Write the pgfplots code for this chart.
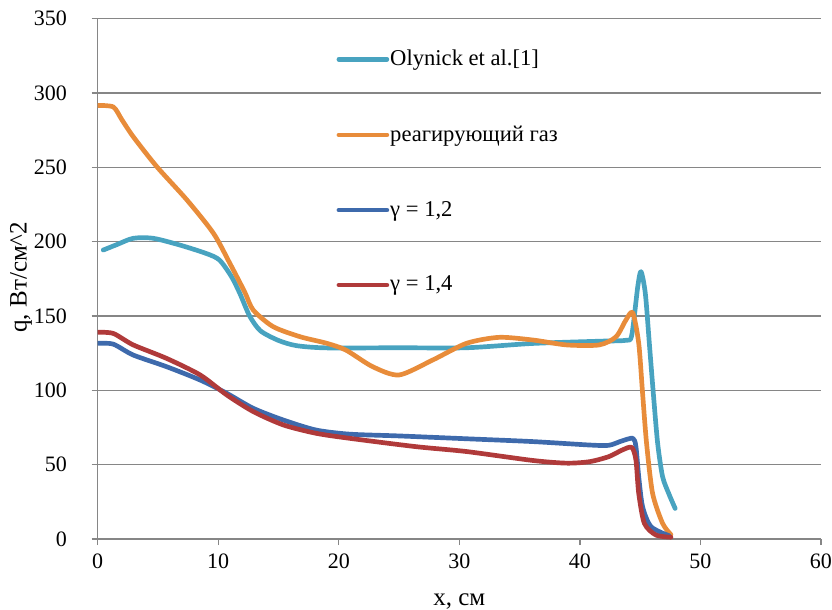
\documentclass[border=0pt]{standalone}
\usepackage{pgfplots}
\pgfplotsset{compat=1.18}
\usepackage{fontspec}
\setmainfont{Liberation Serif}
\definecolor{cteal}{RGB}{72,163,192}
\definecolor{corange}{RGB}{232,140,58}
\definecolor{cblue}{RGB}{62,106,172}
\definecolor{cred}{RGB}{176,58,58}
\definecolor{cgrid}{RGB}{134,134,134}
\begin{document}
\fontsize{20bp}{24bp}\selectfont
\begin{tikzpicture}
\begin{axis}[
  scale only axis,
  width=723.3bp, height=520.5bp,
  xmin=0, xmax=60, ymin=0, ymax=350,
  xtick={0,10,...,60}, ytick={0,50,...,350},
  axis x line*=bottom, axis y line*=left,
  axis line style={cgrid, line width=1.3pt, -},
  tick style={cgrid, line width=1.3pt},
  tick align=outside, major tick length=6bp,
  ymajorgrids, grid style={cgrid, line width=1.3pt},
  /pgf/number format/assume math mode=true,
  tick label style={font=\fontsize{22bp}{26bp}\selectfont},
  xticklabel style={yshift=-2bp},
  yticklabel style={anchor=east, xshift=-18bp},
  xlabel={x, см}, ylabel={q, Вт/см\textasciicircum2},
  label style={font=\fontsize{25bp}{28bp}\selectfont},
  xlabel style={at={(axis description cs:0.5,-0.12)}, anchor=center},
  ylabel style={at={(axis description cs:-0.106,0.503)}, anchor=center},
  legend style={at={(axis cs:19.55,331)}, anchor=north west, draw=none, fill=none,
    row sep=55bp, font=\fontsize{22.6bp}{26bp}\selectfont,
    nodes={inner sep=1bp}},
  legend cell align=left,
  legend image code/.code={\draw[#1] (0bp,0bp) -- (48bp,0bp);},
  every axis plot/.append style={line width=4.7pt, smooth, tension=0.45, line join=round, line cap=round},
]
\coordinate (O) at (rel axis cs:0,0);
\addplot[cteal] coordinates {
(0.46,194.3) (1.6,198) (2.95,202.2) (4.6,202.2) (6.8,197.7) (9.0,192) (10.1,187.6)
(11.1,176.4) (11.8,165) (12.6,150) (13.5,140) (15,133.5) (16.5,130) (19,128.5)
(25,128.6) (30.6,128.6) (36.1,131.5) (41.6,133) (43.8,133.6) (44.3,137)
(44.8,169.7) (45.07,179.8) (45.43,165) (45.76,131.6) (46.09,98) (46.45,64.4)
(46.86,41.9) (47.4,30) (47.9,20.6)
};
\addlegendentry{Olynick et al.[1]}
\addplot[corange] coordinates {
(0.05,291.5) (1.3,290.5) (2,282) (2.95,270.5) (4.9,250.4) (7.4,228) (9.6,205.6)
(10.96,185.4) (12.2,166) (12.9,154) (14.55,142.8) (16.8,136) (19,131.6) (20.6,127)
(22.8,115.9) (25.0,110.3) (27.8,120.4) (30.6,131.6) (33.3,135.6) (36.1,133.8)
(38.9,130.5) (41.6,130.5) (43.0,136) (43.8,147) (44.38,152.2) (44.88,131.6)
(45.2,98) (45.53,64.4) (46.03,30.7) (46.86,10.5) (47.55,3)
};
\addlegendentry{реагирующий газ}
\addplot[cblue] coordinates {
(0.05,131.6) (1.3,131) (2.95,123.7) (5.7,115.9) (8.5,106.9) (10.7,98) (12.9,87.9)
(15.4,80) (18.1,73.3) (20.9,70.5) (25,69.3) (30.6,67.4) (36.1,65.5) (40.8,63.2)
(42.4,63) (43.5,66) (44.4,67.7) (44.65,62) (44.88,41.9) (45.2,21.7) (45.9,8.3)
(47.4,2.2)
};
\addlegendentry{γ = 1,2}
\addplot[cred] coordinates {
(0.05,139) (1.3,138.2) (2.95,130.5) (5.7,121.5) (8.5,110.3) (10.7,96.9) (12.9,85.7)
(15.4,76.7) (18.1,71.1) (20.9,67.7) (26.4,62.1) (30.6,58.8) (36.1,52.8) (38.9,51)
(40.8,52) (42.4,55.4) (43.5,59.8) (44.3,61.6) (44.65,53) (44.88,30.7) (45.35,10.5)
(46.3,2.7) (47.55,1.2)
};
\addlegendentry{γ = 1,4}
\end{axis}
\pgfresetboundingbox
\path ([shift={(-97.7bp,-71bp)}]O) rectangle ([shift={(734.3bp,539bp)}]O);
\end{tikzpicture}
\end{document}
